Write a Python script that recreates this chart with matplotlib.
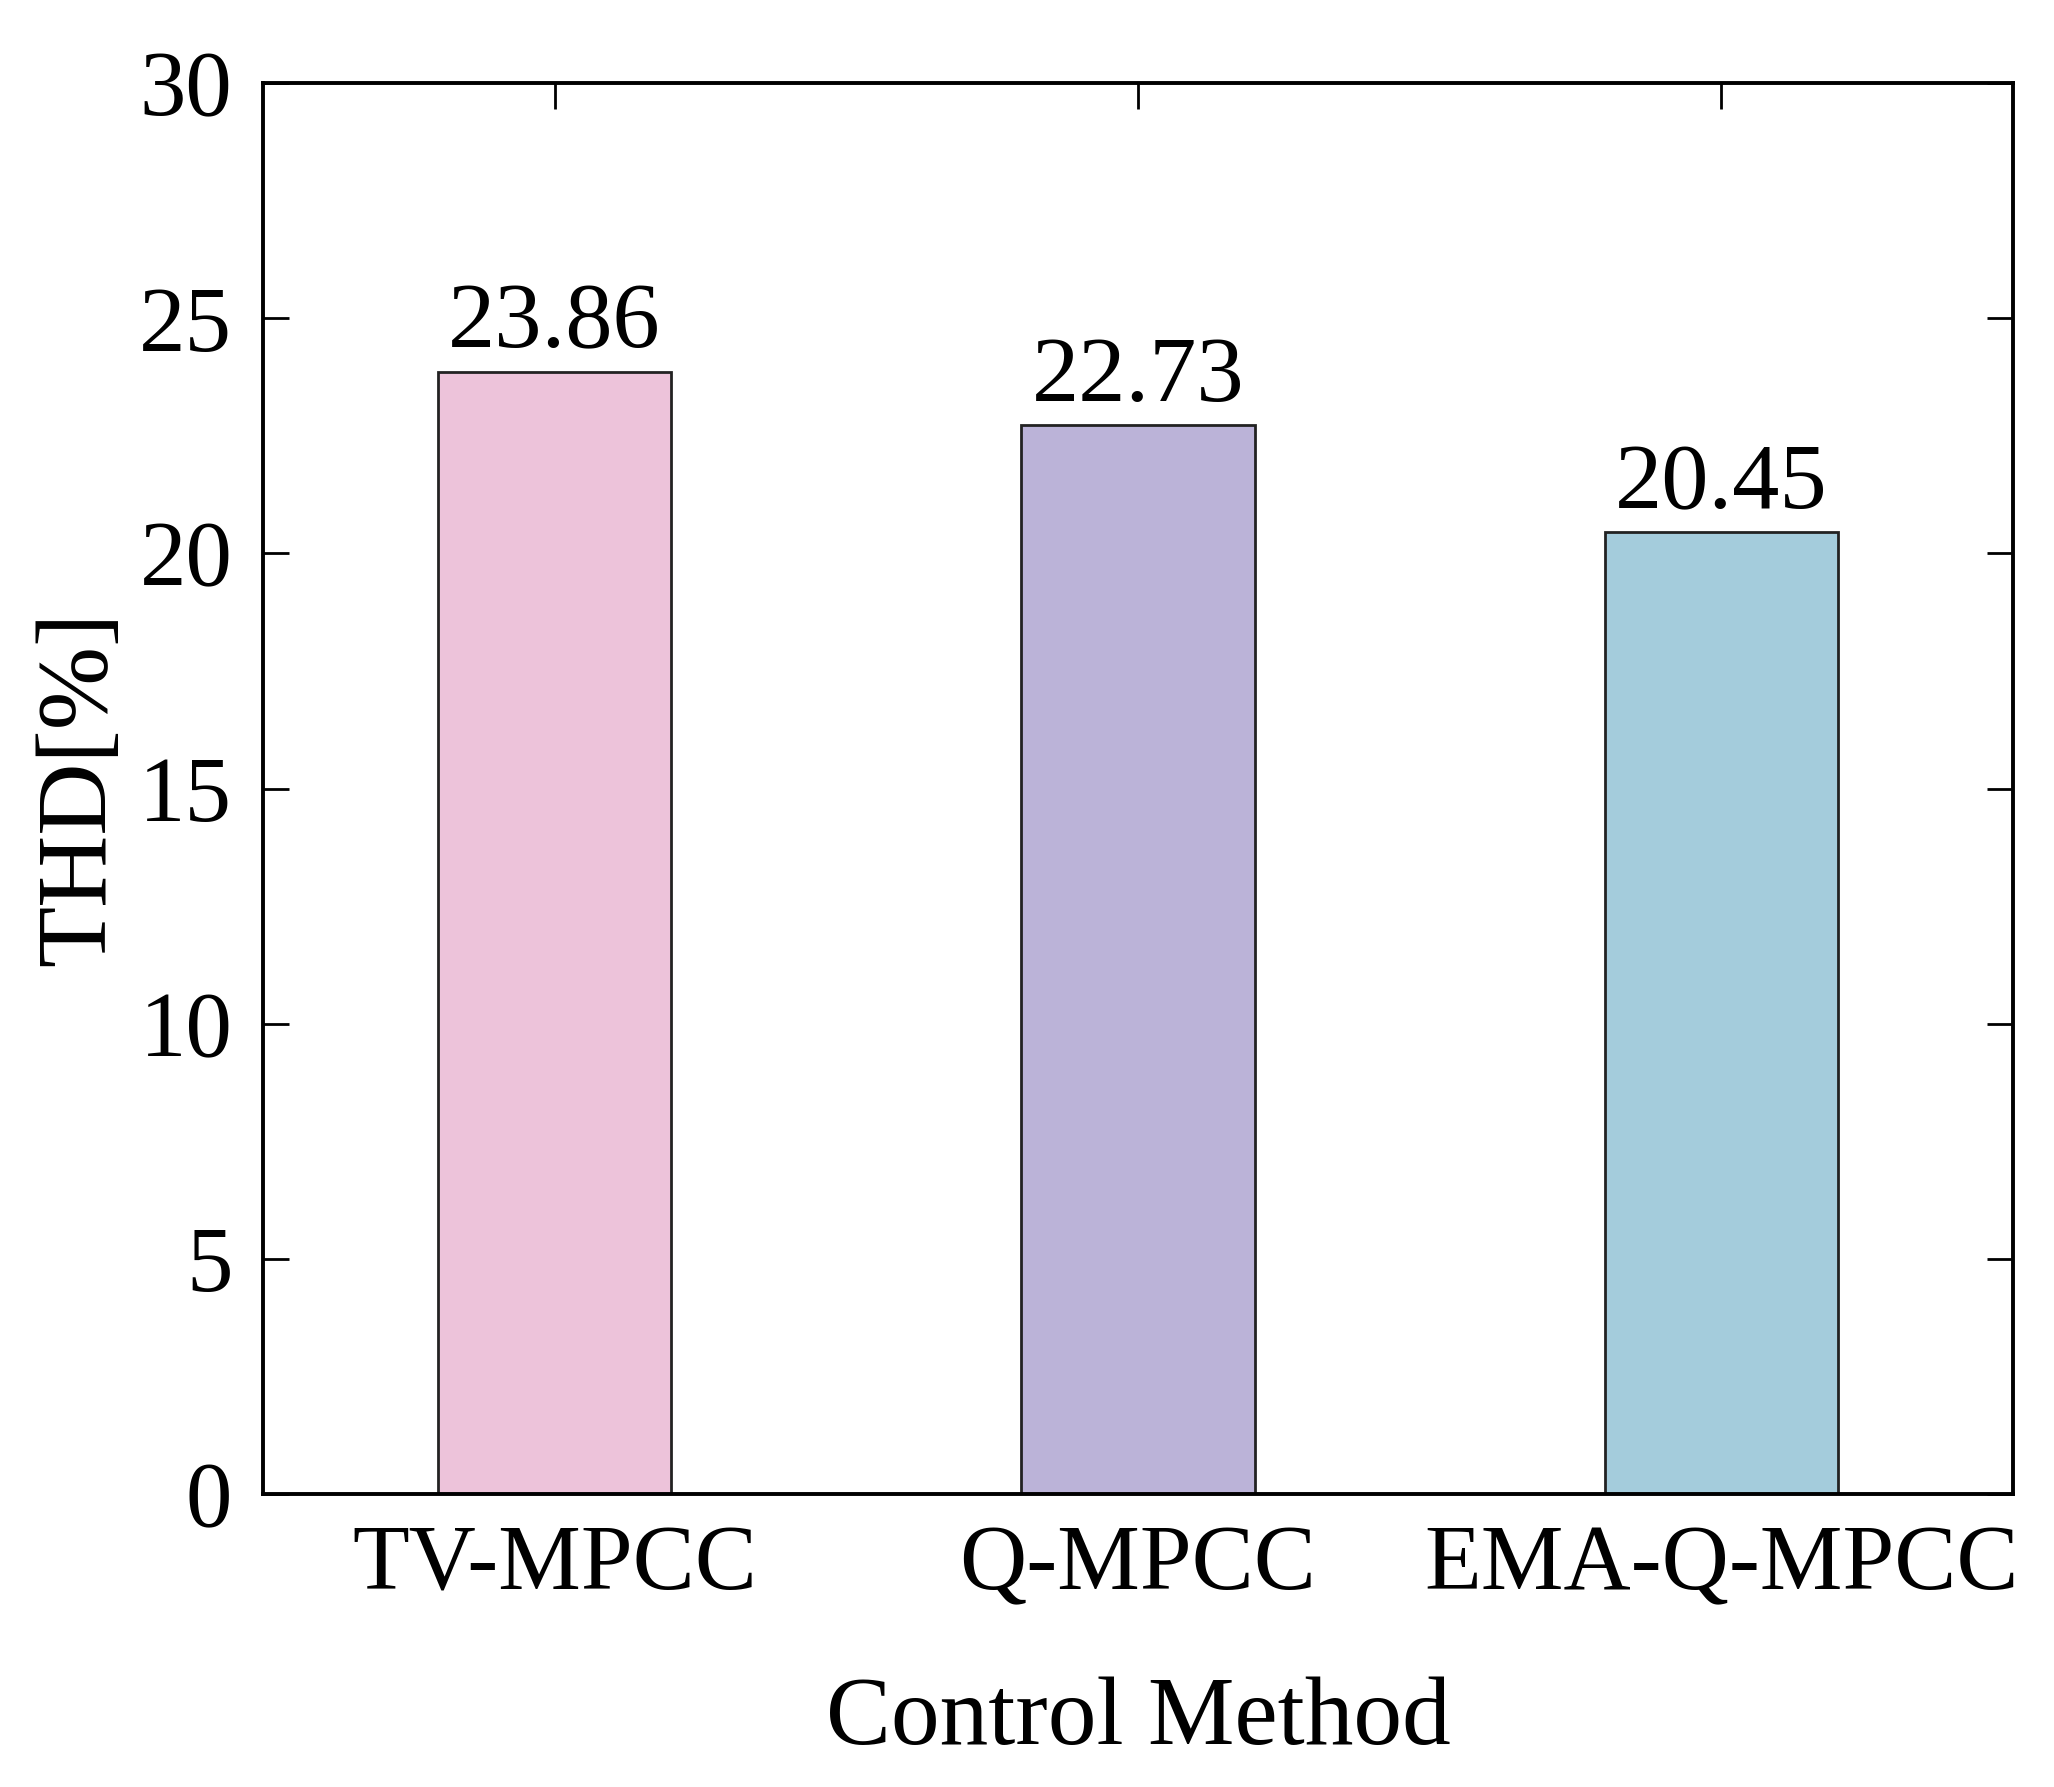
import matplotlib
matplotlib.use('Agg')
import matplotlib.pyplot as plt
import numpy as np

methods = ['TV-MPCC', 'Q-MPCC', 'EMA-Q-MPCC']
thd_values = [23.86, 22.73, 20.45]
bar_colors = ['#EDC3DA', '#BBB3D8', '#A4CCDC']
y_ticks = [0, 5, 10, 15, 20, 25, 30]

plt.rcParams['font.family'] = ['Liberation Serif', 'DejaVu Serif']

fig = plt.figure(figsize=(20.54, 17.87), dpi=100)
ax = fig.add_axes([0.128, 0.164, 0.852, 0.7895])

x = np.arange(1, len(methods) + 1)
ax.bar(x, thd_values, width=0.4, color=bar_colors,
       edgecolor='#222222', linewidth=2.0, zorder=2)

for xi, v in zip(x, thd_values):
    ax.annotate(f'{v:.2f}', (xi, v), xytext=(0, 3), textcoords='offset points',
                ha='center', va='bottom', fontsize=68)

ax.set_xlim(0.5, 3.5)
ax.set_ylim(0, 30)
ax.set_yticks(y_ticks)
ax.set_xticks(x)
ax.set_xticklabels(methods)

ax.tick_params(axis='both', direction='in', length=19, width=2,
               top=True, right=True, labelsize=67)
ax.tick_params(axis='x', pad=22)
ax.tick_params(axis='y', pad=22)
for s in ax.spines.values():
    s.set_linewidth(2.8)
    s.set_zorder(3)

ax.set_xlabel('Control Method', fontsize=70, labelpad=48)
ax.set_ylabel('THD[%]', fontsize=72, labelpad=10)

fig.savefig('out.png', dpi=100)
